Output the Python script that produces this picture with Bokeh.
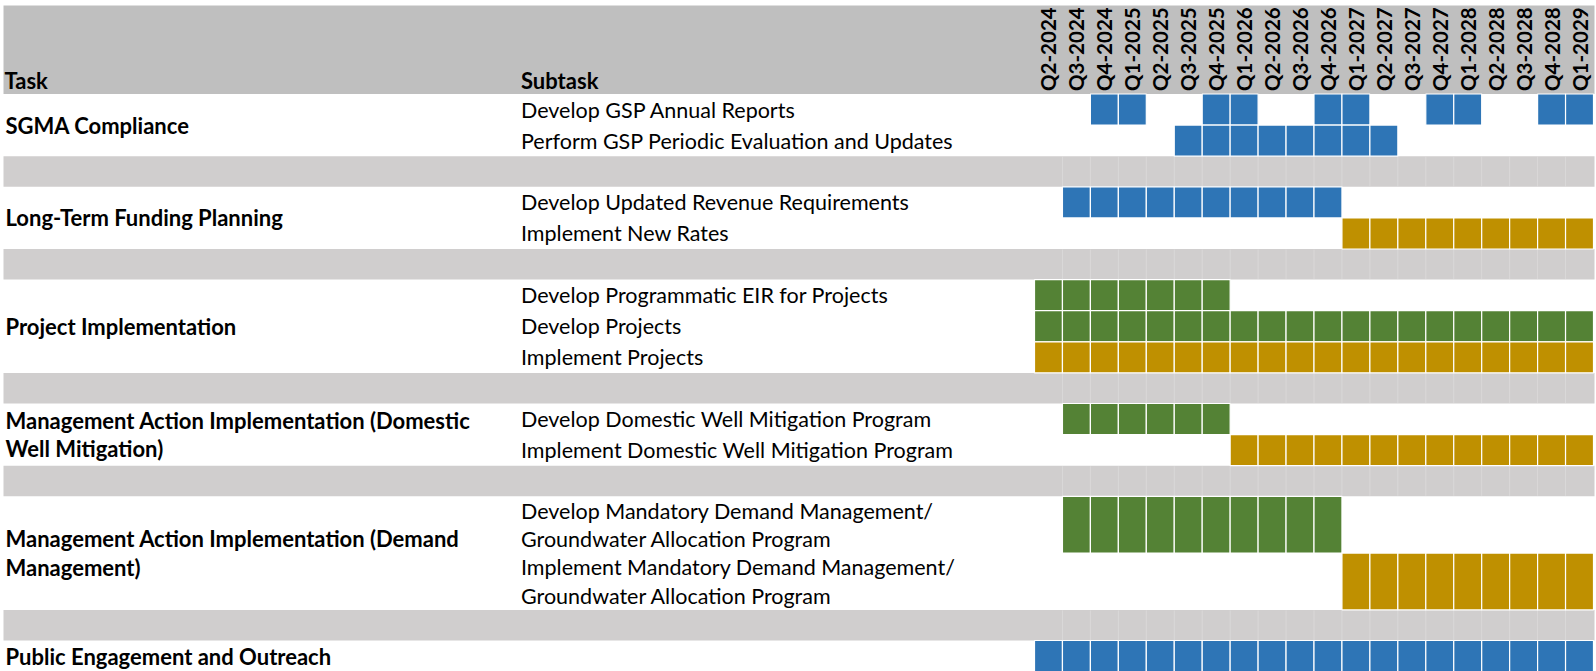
import math
from bokeh.plotting import figure
from bokeh.models import Range1d, ColumnDataSource
from bokeh.embed import file_html
from bokeh.resources import INLINE
from bokeh.core.properties import value

# ---------------- data ----------------
quarters = ["Q2-2024", "Q3-2024", "Q4-2024", "Q1-2025", "Q2-2025", "Q3-2025",
            "Q4-2025", "Q1-2026", "Q2-2026", "Q3-2026", "Q4-2026", "Q1-2027",
            "Q2-2027", "Q3-2027", "Q4-2027", "Q1-2028", "Q2-2028", "Q3-2028",
            "Q4-2028", "Q1-2029"]

tasks = ["SGMA Compliance",
         "Long-Term Funding Planning",
         "Project Implementation",
         "Management Action Implementation (Domestic\nWell Mitigation)",
         "Management Action Implementation (Demand\nManagement)",
         "Public Engagement and Outreach"]

subtask_task = [0, 0, 1, 1, 2, 2, 2, 3, 3, 4, 4, 5]
subtasks = ["Develop GSP Annual Reports",
            "Perform GSP Periodic Evaluation and Updates",
            "Develop Updated Revenue Requirements",
            "Implement New Rates",
            "Develop Programmatic EIR for Projects",
            "Develop Projects",
            "Implement Projects",
            "Develop Domestic Well Mitigation Program",
            "Implement Domestic Well Mitigation Program",
            "Develop Mandatory Demand Management/\nGroundwater Allocation Program",
            "Implement Mandatory Demand Management/\nGroundwater Allocation  Program",
            ""]
subtask_kind = ["Planning", "Planning", "Planning", "Implementation",
                "Development", "Development", "Implementation",
                "Development", "Implementation",
                "Development", "Implementation", "Planning"]
subtask_spans = [
    [("Q4-2024", "Q1-2025"), ("Q4-2025", "Q1-2026"), ("Q4-2026", "Q1-2027"),
     ("Q4-2027", "Q1-2028"), ("Q4-2028", "Q1-2029")],
    [("Q3-2025", "Q2-2027")],
    [("Q3-2024", "Q4-2026")],
    [("Q1-2027", "Q1-2029")],
    [("Q2-2024", "Q4-2025")],
    [("Q2-2024", "Q1-2029")],
    [("Q2-2024", "Q1-2029")],
    [("Q3-2024", "Q4-2025")],
    [("Q1-2026", "Q1-2029")],
    [("Q3-2024", "Q4-2026")],
    [("Q1-2027", "Q1-2029")],
    [("Q2-2024", "Q1-2029")],
]

# ---------------- style / layout ----------------
kind_colors = {"Planning": "#2E75B6", "Development": "#548235", "Implementation": "#BF9000"}
HEADER_GRAY = "#BFBFBF"
GAP_GRAY = "#D0CECE"
FONT = "Lato"
REG_SIZE = "21.5px"
BOLD_SIZE = "22px"
Q_SIZE = "20.5px"
W, H = 1596, 671
GRID_X = 1034.0     # px where the quarter grid starts
COL_W = 27.95       # px per quarter
LEFT_PX = 3.0
RIGHT_PX = 1594.0
TASK_PX = 5.0
SUB_PX = 520.5
HEADER_TOP = 5.0
HEADER_BOTTOM = 93.5
ROW_H = 31.1
LINE_H = 28.4
GAP_H = 30.6


def xq(px):
    return (px - GRID_X) / COL_W


qidx = {q: i for i, q in enumerate(quarters)}

p = figure(width=W, height=H, output_backend="svg", toolbar_location=None,
           x_range=Range1d(xq(0), xq(W)), y_range=Range1d(H, 0),
           min_border=0, x_axis_location=None, y_axis_location=None)
p.outline_line_color = None
p.xgrid.visible = False
p.ygrid.visible = False
p.background_fill_color = "white"
p.border_fill_color = "white"

# row layout
row_top, row_bot = [], []
task_top, task_bot = [], []
gaps = []
y = HEADER_BOTTOM
for t in range(len(tasks)):
    ys = y
    for s, st in enumerate(subtasks):
        if subtask_task[s] != t:
            continue
        nl = st.count("\n") + 1
        h = ROW_H if nl == 1 else LINE_H * nl
        row_top.append(y)
        row_bot.append(y + h)
        y += h
    task_top.append(ys)
    task_bot.append(y)
    if t < len(tasks) - 1:
        gaps.append((y, y + GAP_H))
        y += GAP_H

# header band
p.quad(left=[xq(LEFT_PX)], right=[xq(RIGHT_PX)], top=[HEADER_TOP], bottom=[HEADER_BOTTOM],
       fill_color=HEADER_GRAY, line_color=None)

# gap bands
p.quad(left=[xq(LEFT_PX)] * len(gaps), right=[xq(RIGHT_PX)] * len(gaps),
       top=[g[0] for g in gaps], bottom=[g[1] for g in gaps],
       fill_color=GAP_GRAY, line_color=None)
# faint column lines inside gap bands
gx0, gx1, gy0, gy1 = [], [], [], []
for g in gaps:
    for i in range(1, len(quarters)):
        gx0.append(i); gx1.append(i); gy0.append(g[0] + 0.5); gy1.append(g[1] - 0.5)
p.segment(x0=gx0, y0=gy0, x1=gx1, y1=gy1, line_color="white", line_alpha=0.22, line_width=1)

# cells
cl, cr, ct, cb, cc = [], [], [], [], []
for s, spans in enumerate(subtask_spans):
    for a, b in spans:
        for q in range(qidx[a], qidx[b] + 1):
            cl.append(q); cr.append(q + 1)
            ct.append(row_top[s]); cb.append(row_bot[s])
            cc.append(kind_colors[subtask_kind[s]])
p.quad(source=ColumnDataSource(dict(left=cl, right=cr, top=ct, bottom=cb, color=cc)),
       left="left", right="right", top="top", bottom="bottom",
       fill_color="color", line_color="white", line_width=1.2)

# header texts
p.text(x=[xq(4), xq(SUB_PX)], y=[80, 80], text=["Task", "Subtask"], text_font=value(FONT),
       text_font_style="bold", text_font_size=BOLD_SIZE, text_color="black",
       text_baseline="middle")

# quarter labels
p.text(x=[i + 0.5 for i in range(len(quarters))], y=[90.5] * len(quarters), text=quarters,
       angle=math.pi / 2, text_align="left", text_baseline="middle",
       text_font=value(FONT), text_font_style="bold", text_font_size=Q_SIZE, text_color="black")

# task labels
tx, ty, tt = [], [], []
for t, name in enumerate(tasks):
    lines = name.split("\n")
    mid = (task_top[t] + task_bot[t]) / 2
    n = len(lines)
    for k, ln in enumerate(lines):
        tx.append(xq(TASK_PX)); ty.append(mid + (k - (n - 1) / 2) * LINE_H); tt.append(ln)
p.text(x=tx, y=ty, text=tt, text_font=value(FONT), text_font_style="bold",
       text_font_size=BOLD_SIZE, text_color="black", text_baseline="middle")

# subtask labels
sx, sy, stt = [], [], []
for s, name in enumerate(subtasks):
    if not name:
        continue
    lines = name.split("\n")
    n = len(lines)
    mid = (row_top[s] + row_bot[s]) / 2
    for k, ln in enumerate(lines):
        sx.append(xq(SUB_PX)); sy.append(mid + (k - (n - 1) / 2) * LINE_H); stt.append(ln)
p.text(x=sx, y=sy, text=stt, text_font=value(FONT), text_font_size=REG_SIZE,
       text_color="black", text_baseline="middle")

open("out.html", "w").write(file_html(p, INLINE))
